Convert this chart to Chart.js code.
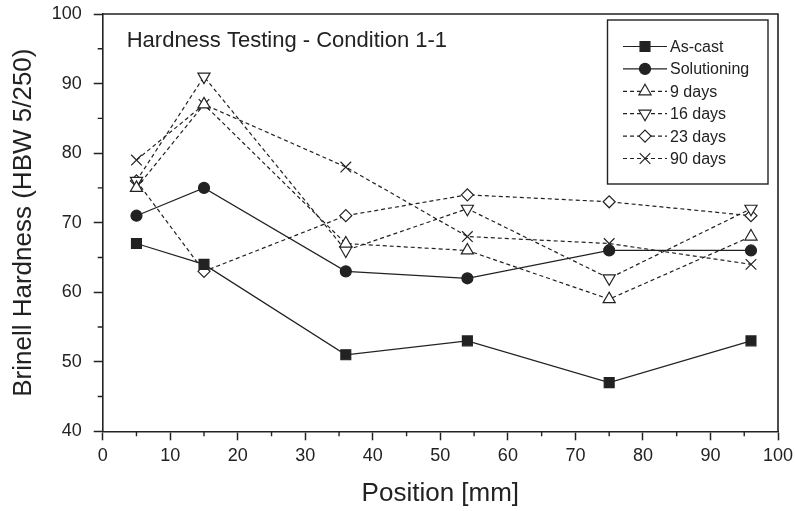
<!DOCTYPE html>
<html>
<head>
<meta charset="utf-8">
<script src="https://cdn.jsdelivr.net/npm/chart.js@4/dist/chart.umd.min.js"></script>
<style>
  html, body { margin: 0; padding: 0; background: #ffffff; }
  #wrap { width: 795px; height: 511px; }
</style>
</head>
<body>
<div id="wrap"><canvas id="c" width="795" height="511"></canvas></div>
<script>
// ---- data ----
const positions   = [5, 15, 36, 54, 75, 96];
const asCast      = [67, 64, 51, 53, 47, 53];
const solutioning = [71, 75, 63, 62, 66, 66];
const days9       = [75, 87, 67, 66, 59, 68];
const days16      = [76, 91, 66, 72, 62, 72];
const days23      = [76, 63, 71, 74, 73, 71];
const days90      = [79, 87, 78, 68, 67, 64];
const seriesNames = ['As-cast', 'Solutioning', '9 days', '16 days', '23 days', '90 days'];
const xTicks = [0, 10, 20, 30, 40, 50, 60, 70, 80, 90, 100];
const yTicks = [40, 50, 60, 70, 80, 90, 100];
const chartTitle = 'Hardness Testing - Condition 1-1';
const xTitle = 'Position [mm]';
const yTitle = 'Brinell Hardness (HBW 5/250)';

const INK = '#222222';
const FONT = '"Liberation Sans", Arial, Helvetica, sans-serif';

function pts(vals) { return vals.map((v, i) => ({ x: positions[i], y: v })); }

const styles = [
  { pointStyle: 'rect',     radius: 7,   rot: 0,   fill: INK,    dash: [] },
  { pointStyle: 'circle',   radius: 5.5, rot: 0,   fill: INK,    dash: [] },
  { pointStyle: 'triangle', radius: 7,   rot: 0,   fill: '#fff', dash: [4, 3] },
  { pointStyle: 'triangle', radius: 7,   rot: 180, fill: '#fff', dash: [4, 3] },
  { pointStyle: 'rectRot',  radius: 6,   rot: 0,   fill: '#fff', dash: [4, 3] },
  { pointStyle: 'crossRot', radius: 7.5, rot: 0,   fill: '#fff', dash: [4, 3] }
];
const seriesValues = [asCast, solutioning, days9, days16, days23, days90];

const datasets = seriesValues.map((vals, i) => ({
  label: seriesNames[i],
  data: pts(vals),
  borderColor: INK,
  borderWidth: 1.2,
  borderDash: styles[i].dash,
  backgroundColor: styles[i].fill,
  pointStyle: styles[i].pointStyle,
  pointRadius: styles[i].radius,
  pointHoverRadius: styles[i].radius,
  pointRotation: styles[i].rot,
  pointBorderColor: INK,
  pointBackgroundColor: styles[i].fill,
  pointBorderWidth: 1.2,
  tension: 0,
  fill: false
}));

function drawMarker(ctx, style, x, y) {
  const opts = { pointStyle: style.pointStyle, radius: style.radius, rotation: style.rot, borderWidth: 1.2 };
  ctx.save();
  ctx.setLineDash([]);
  ctx.strokeStyle = INK;
  ctx.fillStyle = style.fill;
  ctx.lineWidth = 1.2;
  if (Chart.helpers && Chart.helpers.drawPoint) {
    Chart.helpers.drawPoint(ctx, opts, x, y);
  }
  ctx.restore();
}

const decorPlugin = {
  id: 'decor',
  afterDraw(chart) {
    const { ctx, chartArea: a, scales } = chart;
    ctx.save();
    // top and right frame lines
    ctx.strokeStyle = INK;
    ctx.lineWidth = 1.6;
    ctx.beginPath();
    ctx.moveTo(a.left, a.top);
    ctx.lineTo(a.right, a.top);
    ctx.lineTo(a.right, a.bottom);
    ctx.stroke();
    // minor ticks
    ctx.lineWidth = 1.4;
    ctx.beginPath();
    for (let v = 5; v < 100; v += 10) {
      const px = scales.x.getPixelForValue(v);
      ctx.moveTo(px, a.bottom);
      ctx.lineTo(px, a.bottom + 5);
    }
    for (let v = 45; v < 100; v += 10) {
      const py = scales.y.getPixelForValue(v);
      ctx.moveTo(a.left, py);
      ctx.lineTo(a.left - 5, py);
    }
    ctx.stroke();
    // in-plot title
    ctx.fillStyle = INK;
    ctx.font = '22px ' + FONT;
    ctx.textBaseline = 'alphabetic';
    ctx.textAlign = 'left';
    ctx.fillText(chartTitle, a.left + 24, a.top + 33);
    // legend box
    const bx = 607.5, by = 20, bw = 160.5, bh = 164;
    ctx.fillStyle = '#fff';
    ctx.fillRect(bx, by, bw, bh);
    ctx.lineWidth = 1.4;
    ctx.strokeStyle = INK;
    ctx.strokeRect(bx, by, bw, bh);
    ctx.font = '16px ' + FONT;
    ctx.textBaseline = 'middle';
    for (let i = 0; i < datasets.length; i++) {
      const y = 46.5 + i * 22.4;
      ctx.save();
      ctx.strokeStyle = INK;
      ctx.lineWidth = 1.2;
      ctx.setLineDash(styles[i].dash);
      ctx.beginPath();
      ctx.moveTo(623, y);
      ctx.lineTo(667, y);
      ctx.stroke();
      ctx.restore();
      drawMarker(ctx, styles[i], 645, y);
      ctx.fillStyle = INK;
      ctx.fillText(seriesNames[i], 670, y + 1);
    }
    ctx.restore();
  }
};

new Chart(document.getElementById('c'), {
  type: 'line',
  data: { datasets },
  options: {
    responsive: false,
    animation: false,
    devicePixelRatio: 1,
    layout: { padding: { top: 14, right: 17, left: 0, bottom: 0 } },
    plugins: { legend: { display: false }, tooltip: { enabled: false }, title: { display: false } },
    scales: {
      x: {
        type: 'linear',
        min: 0, max: 100,
        afterFit(s) { s.height = 79.7; s.paddingLeft = 0; s.paddingRight = 0; },
        afterBuildTicks(s) { s.ticks = xTicks.map(v => ({ value: v })); },
        grid: { display: true, drawOnChartArea: false, drawTicks: true, tickLength: 9, tickWidth: 1.5, tickColor: INK },
        border: { display: true, color: INK, width: 1.6 },
        ticks: { color: INK, font: { family: FONT, size: 18 }, padding: 5, maxRotation: 0, autoSkip: false },
        title: { display: true, text: xTitle, color: INK, font: { family: FONT, size: 26 }, padding: { top: 0, bottom: 2 } }
      },
      y: {
        type: 'linear',
        min: 40, max: 100,
        afterFit(s) { s.width = 102.7; s.paddingTop = 0; s.paddingBottom = 0; },
        afterBuildTicks(s) { s.ticks = yTicks.map(v => ({ value: v })); },
        grid: { display: true, drawOnChartArea: false, drawTicks: true, tickLength: 9, tickWidth: 1.5, tickColor: INK },
        border: { display: true, color: INK, width: 1.6 },
        ticks: { color: INK, font: { family: FONT, size: 18 }, padding: 12, autoSkip: false },
        title: { display: true, text: yTitle, color: INK, font: { family: FONT, size: 26 }, padding: { top: 8, bottom: 0 } }
      }
    }
  },
  plugins: [decorPlugin]
});
</script>
</body>
</html>
